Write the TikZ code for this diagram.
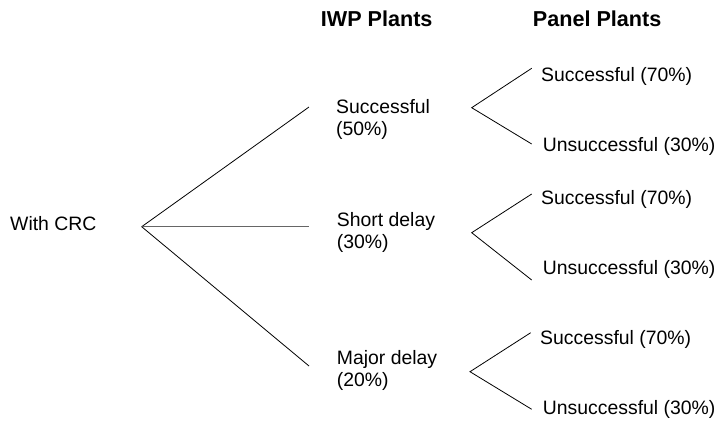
\documentclass[tikz,border=0pt]{standalone}
\usepackage{fontspec}
\setmainfont{Liberation Sans}
\begin{document}
\begin{tikzpicture}[x=1pt,y=-1pt,
  lbl/.style={inner sep=0pt,anchor=base west,align=left,
    font=\fontsize{19.4}{22}\selectfont},
  head/.style={inner sep=0pt,anchor=base west,
    font=\fontsize{21.6}{24}\selectfont\bfseries},
  branch/.style={line width=0.8pt,black},
  flatbranch/.style={line width=1.3pt,black!60}]
\useasboundingbox (0,0) rectangle (716,421);

% column headings
\node[head] (hIWP) at (320.7,26.7) {IWP Plants};
\node[head] (hPanel) at (532.7,26.7) {Panel Plants};

% root
\node[lbl] (crc) at (10,230) {With CRC};
\coordinate (root) at (141.7,226.7);

% first stage: IWP plant outcomes (two-line labels sit on their last baseline)
\coordinate (a1) at (309,107);
\coordinate (a2) at (309,226.7);
\coordinate (a3) at (309,366);
\node[lbl] (succ) at (336,135) {Successful\\(50\%)};
\node[lbl] (short) at (336.7,248.7) {Short delay\\(30\%)};
\node[lbl] (major) at (336.7,386.3) {Major delay\\(20\%)};

\draw[branch] (root) -- (a1);
\draw[flatbranch] (root) -- (a2);
\draw[branch] (root) -- (a3);

% second stage: panel plant outcomes
\coordinate (f1) at (471.7,107.7);
\coordinate (f2) at (471.7,232.7);
\coordinate (f3) at (470,371.7);
\coordinate (e1u) at (531.7,68.3);
\coordinate (e1l) at (531.7,144);
\coordinate (e2u) at (531.7,194);
\coordinate (e2l) at (531.7,280);
\coordinate (e3u) at (530.7,332.7);
\coordinate (e3l) at (531.7,409.3);

\draw[branch] (e1u) -- (f1) -- (e1l);
\draw[branch] (e2u) -- (f2) -- (e2l);
\draw[branch] (e3u) -- (f3) -- (e3l);

\node[lbl] (s1) at (541,81) {Successful (70\%)};
\node[lbl] (u1) at (542.7,151.5) {Unsuccessful (30\%)};
\node[lbl] (s2) at (541,204) {Successful (70\%)};
\node[lbl] (u2) at (542.7,274.5) {Unsuccessful (30\%)};
\node[lbl] (s3) at (540,344) {Successful (70\%)};
\node[lbl] (u3) at (542.7,414) {Unsuccessful (30\%)};
\end{tikzpicture}
\end{document}
